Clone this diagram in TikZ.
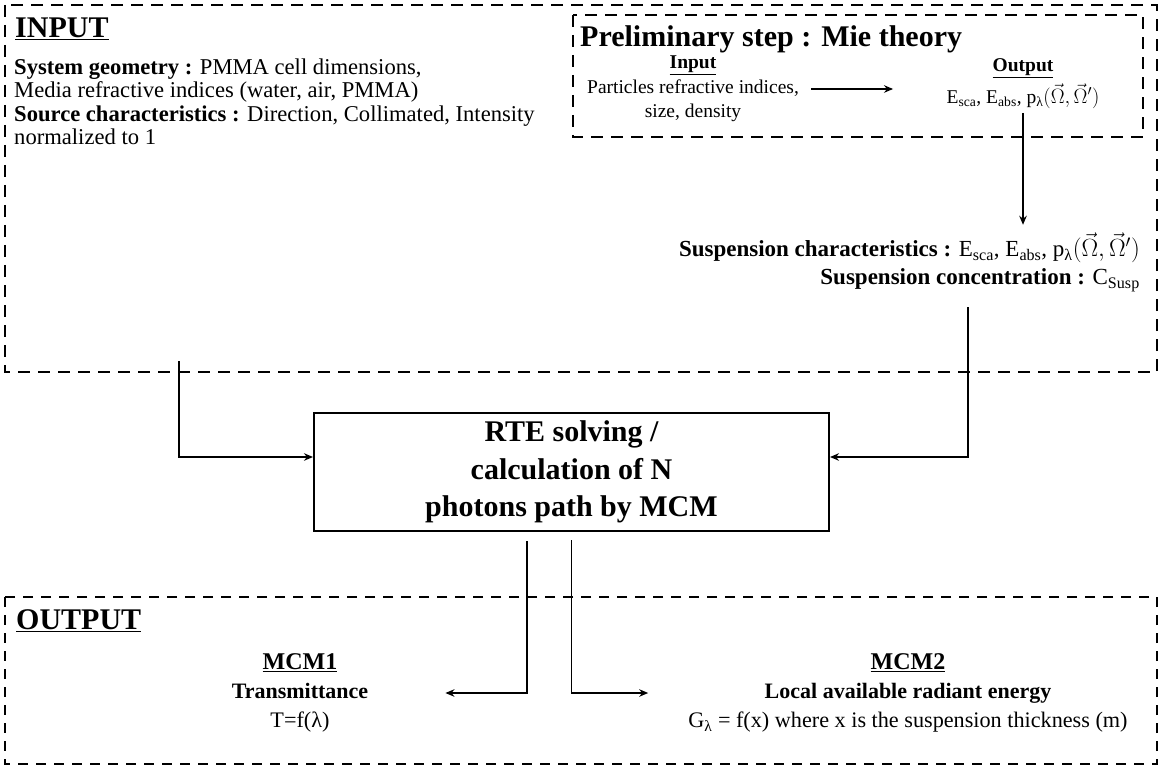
\documentclass[tikz,border=0pt]{standalone}
\usepackage{fontspec}
\setmainfont{Liberation Serif}
\usetikzlibrary{arrows.meta,positioning}

\begin{document}
\begin{tikzpicture}[x=1pt, y=-1pt, >={Stealth[length=9pt,width=7.5pt]},
                    every node/.style={inner sep=0pt},
                    dashbox/.style={line width=2.6pt, dash pattern=on 12pt off 8pt},
                    link/.style={draw, line width=1.8pt, ->},
                    head/.style={font=\fontsize{30}{32}\selectfont\bfseries},
                    body/.style={font=\fontsize{22.6}{23.5}\selectfont},
                    small/.style={font=\fontsize{19.5}{24}\selectfont},
                    smallbf/.style={font=\fontsize{19.5}{24}\selectfont\bfseries}]

\useasboundingbox (0,0) rectangle (1161,767);

\draw[dashbox] (5,5) rectangle (1157,372);
\draw[dashbox] (573,15) rectangle (1143,137);
\draw[dashbox, dash pattern=on 10pt off 8pt] (5,597) rectangle (1157,764);

\node[head, anchor=west] (inlbl) at (15,29) {\underline{INPUT}};
\node[body, anchor=west, align=left] (geom) at (14,102)
  {\textbf{System geometry :} PMMA cell dimensions,\\
   Media refractive indices (water, air, PMMA)\\
   \textbf{Source characteristics :} Direction, Collimated, Intensity\\
   normalized to 1};

\node[anchor=west, font=\fontsize{30}{32}\selectfont\bfseries] (mietitle) at (580,39)
  {Preliminary step : Mie theory};
\node[smallbf] (miein) at (693,65) {\underline{Input}};
\node[small, align=center] (particles) at (693,101) {Particles refractive indices,\\size, density};
\node[smallbf] (mieout) at (1023,68) {\underline{Output}};
\node[small] (mieres) at (1023,96)
  {E\textsubscript{sca}, E\textsubscript{abs}, p\textsubscript{λ}$(\vec{\Omega},\vec{\Omega}')$};

\node[font=\fontsize{23}{28}\selectfont, anchor=east, align=right] (susp) at (1140,262)
  {\textbf{Suspension characteristics :} E\textsubscript{sca}, E\textsubscript{abs}, p\textsubscript{λ}$(\vec{\Omega},\vec{\Omega}')$\\
   \textbf{Suspension concentration :} C\textsubscript{Susp}};

\node[draw, line width=2pt, minimum width=515pt, minimum height=118pt, align=center,
      font=\fontsize{30}{37.5}\selectfont\bfseries] (rte) at (571.5,472)
  {RTE solving /\\calculation of N\\photons path by MCM};

\node[head, anchor=west] (outlbl) at (16,621) {\underline{OUTPUT}};
\node[align=center, font=\fontsize{22.2}{29}\selectfont] (mcm1) at (300,693)
  {{\fontsize{24}{29}\selectfont\bfseries\underline{MCM1}}\\
   {\bfseries\fontsize{22}{29}\selectfont Transmittance}\\
   T=f(λ)};
\node[align=center, font=\fontsize{22.2}{29}\selectfont] (mcm2) at (908,693)
  {{\fontsize{24}{29}\selectfont\bfseries\underline{MCM2}}\\
   {\bfseries\fontsize{22}{29}\selectfont Local available radiant energy}\\
   G\textsubscript{λ} = f(x) where x is the suspension thickness (m)};

\coordinate (geomout) at (179,361);
\coordinate (concout) at (968,307);

\draw[link] ([xshift=12pt,yshift=12pt]particles.east) -- ++(82,0);
\draw[link] ([yshift=-4pt]mieres.south) -- ++(0,112);
\draw[link] (geomout) |- ([yshift=15pt]rte.west);
\draw[link] (concout) |- ([yshift=15pt]rte.east);
\draw[link] ([xshift=-44.5pt,yshift=-9pt]rte.south) |- ([xshift=77pt]mcm1.east);
\draw[link] ([yshift=-8pt]rte.south) |- ([xshift=-40pt]mcm2.west);
\end{tikzpicture}
\end{document}
